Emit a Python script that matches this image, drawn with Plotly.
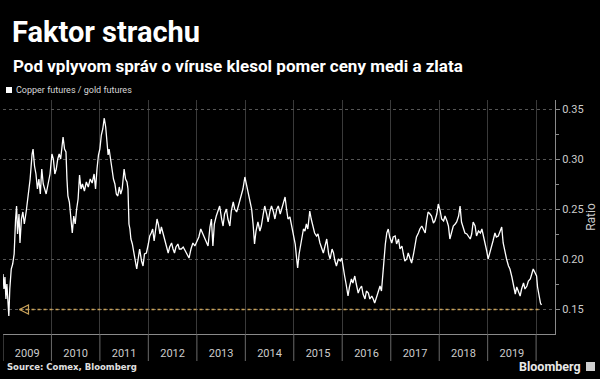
import datetime as dt
import plotly.graph_objects as go

# ---- data ----
t_year = [
    2009.00, 2009.02, 2009.04, 2009.06, 2009.08, 2009.10, 2009.12, 2009.14, 2009.17, 2009.20,
    2009.23, 2009.26, 2009.28, 2009.30, 2009.33, 2009.35, 2009.38, 2009.41, 2009.44, 2009.48,
    2009.52, 2009.56, 2009.60, 2009.62, 2009.65, 2009.68, 2009.71, 2009.74, 2009.77, 2009.80,
    2009.83, 2009.86, 2009.89, 2009.93, 2009.97,
    2010.01, 2010.04, 2010.07, 2010.10, 2010.13, 2010.16, 2010.19, 2010.22, 2010.24, 2010.27,
    2010.30, 2010.32, 2010.34, 2010.37, 2010.40, 2010.43, 2010.46, 2010.49, 2010.52, 2010.55,
    2010.58, 2010.61, 2010.64, 2010.68, 2010.72, 2010.76, 2010.80, 2010.84, 2010.88, 2010.91,
    2010.94, 2010.97,
    2011.00, 2011.03, 2011.06, 2011.09, 2011.12, 2011.15, 2011.17, 2011.19, 2011.22, 2011.25,
    2011.28, 2011.31, 2011.34, 2011.37, 2011.40, 2011.43, 2011.46, 2011.50, 2011.53, 2011.56,
    2011.58, 2011.60, 2011.62, 2011.64, 2011.67, 2011.70, 2011.73, 2011.76, 2011.79, 2011.82,
    2011.86, 2011.89, 2011.92, 2011.96,
    2012.00, 2012.03, 2012.06, 2012.09, 2012.12, 2012.15, 2012.18, 2012.21, 2012.24, 2012.27,
    2012.31, 2012.34, 2012.37, 2012.41, 2012.44, 2012.48, 2012.51, 2012.54, 2012.57, 2012.61,
    2012.64, 2012.68, 2012.72, 2012.76, 2012.80, 2012.84, 2012.88, 2012.92, 2012.96,
    2013.00, 2013.04, 2013.08, 2013.12, 2013.16, 2013.20, 2013.23, 2013.27, 2013.30, 2013.33,
    2013.36, 2013.40, 2013.44, 2013.47, 2013.51, 2013.54, 2013.57, 2013.61, 2013.64, 2013.68,
    2013.71, 2013.75, 2013.78, 2013.82, 2013.85, 2013.88, 2013.92, 2013.95, 2013.99,
    2014.02, 2014.06, 2014.09, 2014.13, 2014.16, 2014.19, 2014.22, 2014.26, 2014.30, 2014.33,
    2014.37, 2014.40, 2014.44, 2014.47, 2014.51, 2014.54, 2014.58, 2014.61, 2014.65, 2014.68,
    2014.72, 2014.75, 2014.79, 2014.82, 2014.85, 2014.88, 2014.92, 2014.96,
    2015.00, 2015.03, 2015.06, 2015.08, 2015.11, 2015.14, 2015.17, 2015.20, 2015.23, 2015.26,
    2015.29, 2015.33, 2015.36, 2015.40, 2015.43, 2015.47, 2015.50, 2015.54, 2015.58, 2015.61,
    2015.64, 2015.68, 2015.72, 2015.75, 2015.79, 2015.82, 2015.85, 2015.88, 2015.92, 2015.96,
    2015.99,
    2016.02, 2016.05, 2016.08, 2016.12, 2016.15, 2016.19, 2016.22, 2016.26, 2016.29, 2016.33,
    2016.36, 2016.40, 2016.43, 2016.47, 2016.50, 2016.54, 2016.57, 2016.61, 2016.64, 2016.67,
    2016.71, 2016.74, 2016.78, 2016.81, 2016.84, 2016.86, 2016.89, 2016.92, 2016.95, 2016.98,
    2017.02, 2017.05, 2017.09, 2017.12, 2017.16, 2017.19, 2017.23, 2017.26, 2017.29, 2017.33,
    2017.36, 2017.40, 2017.43, 2017.47, 2017.50, 2017.53, 2017.57, 2017.60, 2017.64, 2017.67,
    2017.71, 2017.74, 2017.77, 2017.81, 2017.84, 2017.88, 2017.91, 2017.95, 2017.98,
    2018.02, 2018.05, 2018.09, 2018.12, 2018.16, 2018.19, 2018.22, 2018.26, 2018.29, 2018.33,
    2018.36, 2018.40, 2018.43, 2018.46, 2018.50, 2018.53, 2018.57, 2018.60, 2018.64, 2018.67,
    2018.70, 2018.74, 2018.77, 2018.81, 2018.85, 2018.88, 2018.92, 2018.95, 2018.98,
    2019.01, 2019.04, 2019.08, 2019.11, 2019.15, 2019.18, 2019.22, 2019.25, 2019.29, 2019.32,
    2019.36, 2019.39, 2019.43, 2019.46, 2019.50, 2019.53, 2019.57, 2019.60, 2019.63, 2019.67,
    2019.70, 2019.74, 2019.77, 2019.81, 2019.84, 2019.88, 2019.91, 2019.94, 2019.97,
    2020.01, 2020.03, 2020.05, 2020.07, 2020.09, 2020.11,
]
ratio = [
    0.185, 0.170, 0.182, 0.160, 0.175, 0.160, 0.143, 0.170, 0.190, 0.195,
    0.205, 0.240, 0.253, 0.225, 0.245, 0.216, 0.240, 0.247, 0.235, 0.248,
    0.265, 0.280, 0.305, 0.310, 0.293, 0.285, 0.270, 0.280, 0.265, 0.290,
    0.275, 0.270, 0.265, 0.275, 0.285,
    0.305, 0.300, 0.285, 0.290, 0.300, 0.305, 0.300, 0.318, 0.322, 0.310,
    0.307, 0.280, 0.263, 0.257, 0.240, 0.226, 0.243, 0.235, 0.250, 0.260,
    0.284, 0.270, 0.275, 0.268, 0.277, 0.272, 0.280, 0.276, 0.285, 0.270,
    0.290, 0.304,
    0.310, 0.324, 0.330, 0.341, 0.332, 0.310, 0.304, 0.310, 0.297, 0.290,
    0.280, 0.275, 0.265, 0.263, 0.272, 0.265, 0.270, 0.290, 0.280, 0.277,
    0.270, 0.235, 0.230, 0.220, 0.215, 0.206, 0.200, 0.190, 0.200, 0.210,
    0.198, 0.193, 0.205, 0.206,
    0.215, 0.223, 0.226, 0.230, 0.218, 0.232, 0.240, 0.234, 0.225, 0.232,
    0.225, 0.220, 0.212, 0.206, 0.212, 0.216, 0.210, 0.206, 0.212, 0.215,
    0.210, 0.210, 0.212, 0.208, 0.205, 0.201, 0.210, 0.216, 0.213,
    0.218, 0.222, 0.230, 0.225, 0.222, 0.215, 0.213, 0.232, 0.240, 0.213,
    0.235, 0.243, 0.248, 0.253, 0.240, 0.233, 0.245, 0.250, 0.240, 0.233,
    0.248, 0.257, 0.250, 0.247, 0.252, 0.257, 0.265, 0.270, 0.282,
    0.275, 0.267, 0.258, 0.250, 0.235, 0.215, 0.228, 0.237, 0.228, 0.233,
    0.245, 0.253, 0.245, 0.237, 0.248, 0.253, 0.247, 0.240, 0.250, 0.253,
    0.245, 0.250, 0.255, 0.262, 0.250, 0.240, 0.242, 0.232,
    0.226, 0.215, 0.200, 0.191, 0.205, 0.215, 0.225, 0.230, 0.228, 0.235,
    0.230, 0.248, 0.240, 0.230, 0.226, 0.223, 0.225, 0.216, 0.210, 0.206,
    0.212, 0.220, 0.205, 0.200, 0.210, 0.206, 0.198, 0.193, 0.200, 0.198,
    0.201,
    0.190, 0.183, 0.175, 0.163, 0.172, 0.180, 0.176, 0.183, 0.175, 0.166,
    0.170, 0.173, 0.165, 0.160, 0.168, 0.166, 0.160, 0.163, 0.160, 0.156,
    0.162, 0.166, 0.173, 0.168, 0.185, 0.203, 0.215, 0.226, 0.230, 0.222,
    0.216, 0.222, 0.223, 0.215, 0.220, 0.210, 0.213, 0.205, 0.198, 0.200,
    0.206, 0.200, 0.196, 0.205, 0.216, 0.222, 0.226, 0.230, 0.233, 0.230,
    0.226, 0.238, 0.247, 0.245, 0.243, 0.236, 0.238, 0.245, 0.255,
    0.248, 0.240, 0.238, 0.243, 0.238, 0.233, 0.220, 0.228, 0.233, 0.235,
    0.237, 0.243, 0.253, 0.237, 0.230, 0.226, 0.225, 0.223, 0.220, 0.225,
    0.237, 0.233, 0.223, 0.228, 0.226, 0.230, 0.222, 0.216, 0.208,
    0.200, 0.205, 0.213, 0.218, 0.226, 0.222, 0.223, 0.228, 0.232, 0.216,
    0.205, 0.200, 0.193, 0.190, 0.182, 0.175, 0.165, 0.172, 0.168, 0.163,
    0.170, 0.176, 0.170, 0.173, 0.178, 0.180, 0.185, 0.190, 0.187,
    0.183, 0.172, 0.165, 0.160, 0.156, 0.154,
]
ref_level = 0.1495
ref_start_year = 2009.34
x_range_years = [2009.0, 2020.39]
years = list(range(2009, 2021))
y_ticks = [0.15, 0.20, 0.25, 0.30, 0.35]
title_text = "Faktor strachu"
subtitle_text = "Pod vplyvom správ o víruse klesol pomer ceny medi a zlata"
series_name = "Copper futures / gold futures"
source_text = "Source: Comex, Bloomberg"


def to_date(y):
    yr = int(y)
    start = dt.datetime(yr, 1, 1)
    return start + dt.timedelta(days=(y - yr) * 365.25)


dates = [to_date(v) for v in t_year]

W, H = 600, 379
L, R, T, B = 3, 45, 100, 45
pw, ph = W - L - R, H - T - B


def px_x(px):
    return (px - L) / pw


def px_y(py):
    return (H - B - py) / ph


GOLD = "#c9a25a"
fig = go.Figure()

fig.add_trace(go.Scatter(
    x=dates, y=ratio, mode="lines", name=series_name,
    line=dict(color="white", width=1.3), showlegend=False,
))
# reference line (dotted, gold) with arrow head at left
fig.add_trace(go.Scatter(
    x=[to_date(ref_start_year), dates[-1]], y=[ref_level, ref_level], mode="lines",
    line=dict(color=GOLD, width=1.5, dash="dot"), showlegend=False,
))
fig.add_trace(go.Scatter(
    x=[to_date(ref_start_year)], y=[ref_level], mode="markers",
    marker=dict(symbol="arrow-left-open", size=9, color=GOLD, line=dict(color=GOLD, width=1.2)),
    showlegend=False,
))

shapes = []
# tick lines below the x axis at year boundaries
for yv in years:
    shapes.append(dict(type="line", xref="x", yref="paper",
                       x0=to_date(yv), x1=to_date(yv), y0=0, y1=px_y(361),
                       line=dict(color="#6a6a6a", width=1)))
# legend square
shapes.append(dict(type="rect", xref="paper", yref="paper",
                   x0=px_x(6), x1=px_x(12), y0=px_y(93), y1=px_y(87),
                   fillcolor="white", line=dict(width=0)))
# bloomberg icon
shapes.append(dict(type="rect", xref="paper", yref="paper",
                   x0=px_x(586), x1=px_x(595), y0=px_y(371), y1=px_y(362),
                   fillcolor="#cfcfcf", line=dict(width=0)))

annotations = [
    dict(text=f"<b>{title_text}</b>", xref="paper", yref="paper", x=px_x(10), y=px_y(32),
         xanchor="left", yanchor="middle", showarrow=False,
         font=dict(family="Roboto", size=29, color="white")),
    dict(text=f"<b>{subtitle_text}</b>", xref="paper", yref="paper", x=px_x(11), y=px_y(66),
         xanchor="left", yanchor="middle", showarrow=False,
         font=dict(family="Roboto", size=17, color="white")),
    dict(text=series_name, xref="paper", yref="paper", x=px_x(14), y=px_y(90),
         xanchor="left", yanchor="middle", showarrow=False,
         font=dict(family="Roboto", size=9, color="#d8d8d8")),
    dict(text=f"<b>{source_text}</b>", xref="paper", yref="paper", x=px_x(5), y=px_y(367),
         xanchor="left", yanchor="middle", showarrow=False,
         font=dict(family="DejaVu Sans", size=8.5, color="#e0e0e0")),
    dict(text="<b>Bloomberg</b>", xref="paper", yref="paper", x=px_x(583), y=px_y(366),
         xanchor="right", yanchor="middle", showarrow=False,
         font=dict(family="Roboto", size=12.5, color="#e8e8e8")),
]

fig.update_layout(
    width=W, height=H,
    margin=dict(l=L, r=R, t=T, b=B, pad=0, autoexpand=False),
    paper_bgcolor="black", plot_bgcolor="black",
    showlegend=False,
    shapes=shapes, annotations=annotations,
    font=dict(family="Roboto", color="#cccccc"),
    xaxis=dict(
        type="date", automargin=False,
        range=[to_date(x_range_years[0]), to_date(x_range_years[1])],
        dtick="M12", tick0="2009-01-01", tickformat="%Y", ticklabelmode="period",
        showgrid=True, gridcolor="#3a3a3a", gridwidth=1,
        ticks="outside", ticklen=9, tickcolor="rgba(0,0,0,0)",
        showline=True, linecolor="#8a8a8a", linewidth=1,
        tickfont=dict(size=11, color="#cccccc"),
        zeroline=False, fixedrange=True,
    ),
    yaxis=dict(
        side="right", automargin=False, range=[0.125, 0.359],
        tickvals=y_ticks, tickformat=".2f",
        ticks="outside", ticklen=4, tickcolor="#8a8a8a",
        minor=dict(tickvals=[0.175, 0.225, 0.275, 0.325], ticks="outside", ticklen=3,
                   tickcolor="#8a8a8a", showgrid=False),
        showgrid=True, gridcolor="#555555", griddash="dot", gridwidth=1,
        showline=True, linecolor="#8a8a8a", linewidth=1,
        tickfont=dict(size=11, color="#cccccc"),
        title=dict(text="Ratio", font=dict(size=12, color="#cccccc"), standoff=2),
        zeroline=False, fixedrange=True,
    ),
)

fig.write_html(
    "out.html",
    config={"displayModeBar": False},
    post_script="document.body.style.margin='0';document.body.style.background='black';",
)
